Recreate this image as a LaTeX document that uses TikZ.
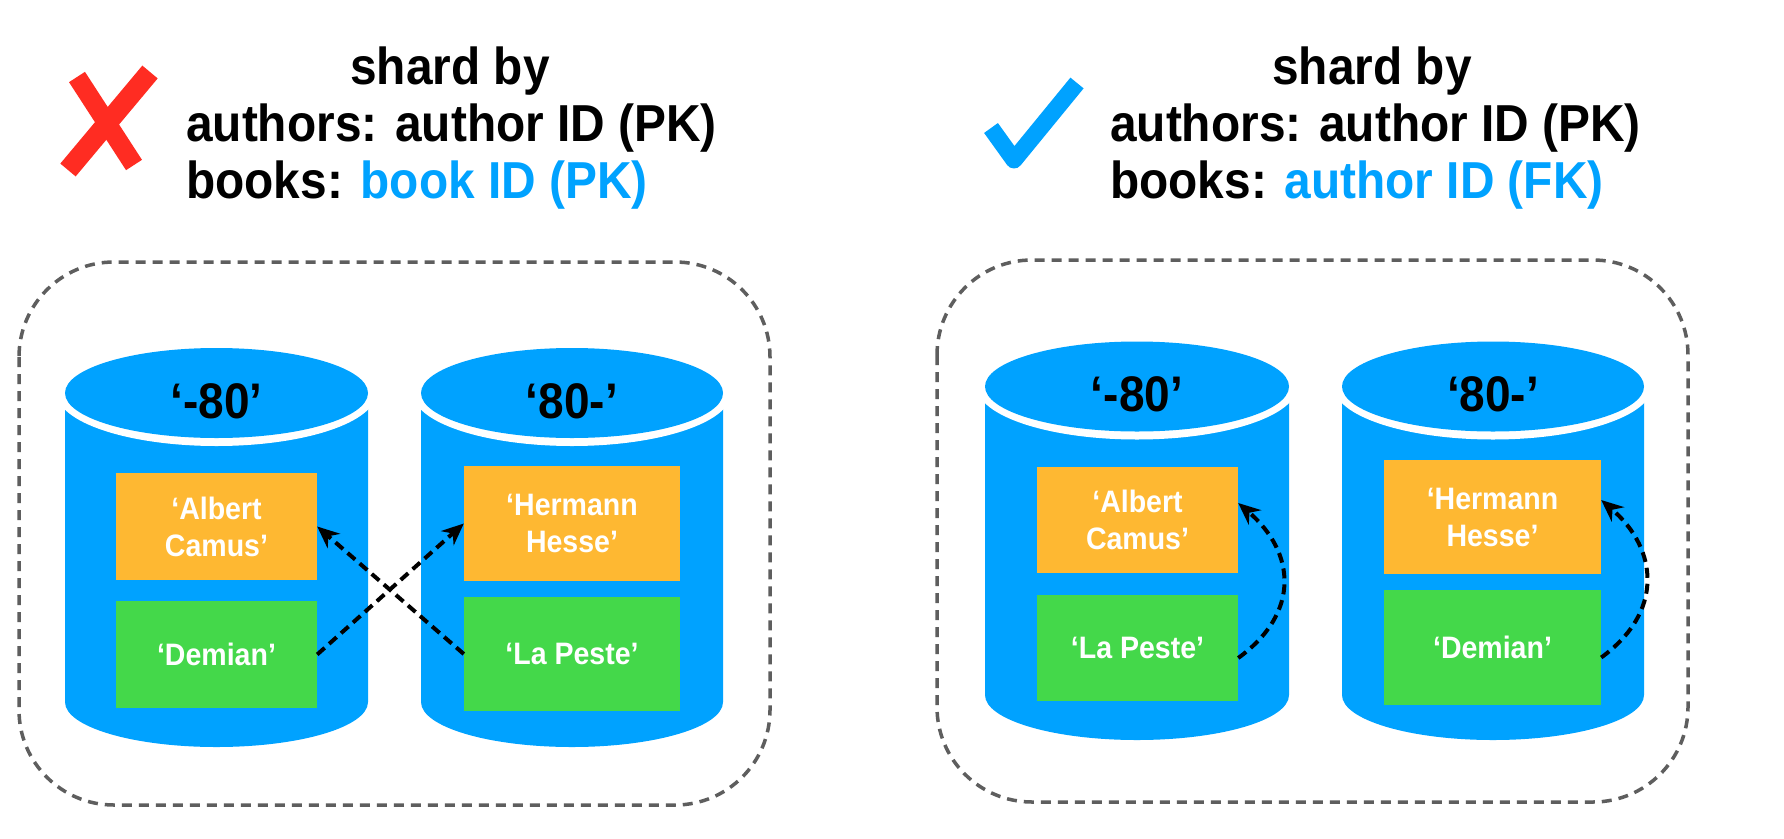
\documentclass[tikz,border=0pt]{standalone}
\usepackage{fontspec}
\setmainfont{Liberation Sans}[FakeStretch=0.92]
\usetikzlibrary{arrows.meta}
\definecolor{dbblue}{HTML}{00A2FF}
\definecolor{dborange}{HTML}{FEB832}
\definecolor{dbgreen}{HTML}{44D84A}
\definecolor{xred}{HTML}{FF2C22}
\definecolor{boxgray}{HTML}{5E5E5E}
\newcommand\dbcyl[4]{% cx, cy (ellipse centre, px down), rx, y where sides end
  \fill[dbblue] (#1-#3,-#2) -- (#1-#3,-#4) arc[start angle=180,end angle=360,x radius=#3,y radius=45] -- (#1+#3,-#2) -- cycle;
  \fill[white] (#1,-#2) ellipse[x radius=#3+8,y radius=53];
  \fill[dbblue] (#1,-#2) ellipse[x radius=#3,y radius=45];
}
\begin{document}
\begin{tikzpicture}[x=1pt,y=1pt,
  panel/.style={draw=boxgray, line width=3.5pt, dash pattern=on 10pt off 7pt, rounded corners=95pt},
  rec/.style={inner sep=0pt, text=white, font=\fontsize{31}{37}\selectfont\bfseries, align=center},
  author/.style={rec, fill=dborange},
  book/.style={rec, fill=dbgreen},
  shardlbl/.style={font=\fontsize{50}{54}\selectfont\bfseries, inner sep=0pt, anchor=base},
  refarrow/.style={line width=4pt, dash pattern=on 10pt off 6pt, -{Stealth[length=22pt,width=19pt]}},
  titleline/.style={anchor=base west, inner sep=0pt, font=\fontsize{52}{58}\selectfont\bfseries},
  titlehead/.style={anchor=base, inner sep=0pt, font=\fontsize{52}{58}\selectfont\bfseries},
]
\fill[white] (0,0) rectangle (1784,-838);
\useasboundingbox (0,0) rectangle (1784,-838);

% ---------- left panel ----------
\draw[xred, line width=19pt] (77,-77) -- (134,-165);
\draw[xred, line width=20pt] (150,-72) -- (68,-170);
\node[titlehead] (t1a) at (450,-84) {shard by};
\node[titleline] (t1b) at (186,-141) {authors: author ID (PK)};
\node[titleline] (t1c) at (186,-198) {books: {\color{dbblue}book ID (PK)}};

\draw[panel] (19,-262) rectangle (770,-805);
\dbcyl{216.5}{393}{151.5}{702}
\dbcyl{572}{393}{151}{702}
\node[shardlbl] (s1a) at (216.5,-418) {‘-80’};
\node[shardlbl] (s1b) at (572,-418) {‘80-’};

\node[author, minimum width=201pt, minimum height=107pt] (a1) at (216.5,-526.5) {‘Albert\\Camus’};
\node[book, minimum width=201pt, minimum height=107pt] (d1) at (216.5,-654.5) {‘Demian’};
\node[author, minimum width=216pt, minimum height=115pt] (h1) at (572,-523.5) {‘Hermann\\Hesse’};
\node[book, minimum width=216pt, minimum height=114pt] (p1) at (572,-654) {‘La Peste’};
\draw[refarrow] (d1.east) -- (h1.west);
\draw[refarrow] (p1.west) -- (a1.east);

% ---------- right panel ----------
\draw[dbblue, line width=17pt, line join=round] (991,-128) -- (1014,-160) -- (1077,-83);
\node[titlehead] (t2a) at (1372,-84) {shard by};
\node[titleline] (t2b) at (1110,-141) {authors: author ID (PK)};
\node[titleline] (t2c) at (1110,-198) {books: {\color{dbblue}author ID (FK)}};

\draw[panel] (937,-260) rectangle (1688,-802);
\dbcyl{1137}{386.5}{152}{695}
\dbcyl{1493}{386.5}{151}{695}
\node[shardlbl] (s2a) at (1137,-411) {‘-80’};
\node[shardlbl] (s2b) at (1493,-411) {‘80-’};

\node[author, minimum width=201pt, minimum height=106pt] (a2) at (1137.5,-520) {‘Albert\\Camus’};
\node[book, minimum width=201pt, minimum height=106pt] (p2) at (1137.5,-648) {‘La Peste’};
\node[author, minimum width=217pt, minimum height=114pt] (h2) at (1492.5,-517) {‘Hermann\\Hesse’};
\node[book, minimum width=217pt, minimum height=115pt] (d2) at (1492.5,-647.5) {‘Demian’};
\draw[refarrow] ([yshift=-10pt]p2.east) .. controls +(62,45) and +(58,-50) .. ([yshift=17pt]a2.east);
\draw[refarrow] ([yshift=-10pt]d2.east) .. controls +(62,45) and +(58,-50) .. ([yshift=17pt]h2.east);
\end{tikzpicture}
\end{document}
